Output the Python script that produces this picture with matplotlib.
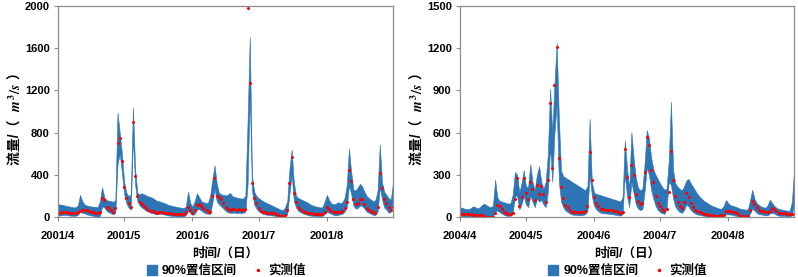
import matplotlib
matplotlib.use("Agg")
import matplotlib.pyplot as plt
from matplotlib.lines import Line2D
import numpy as np
import pandas as pd

# ---- data: 2001 (Apr 1 - Aug 31, daily) ----
obs_2001 = [
    40, 42, 45, 48, 45, 42, 40, 38, 40, 45,
    60, 67, 67, 62, 55, 48, 45, 42, 38, 50,
    178, 162, 98, 83, 67, 50, 83, 705, 750, 535,
    285, 180, 130, 98, 898, 384, 200, 146, 121, 100,
    83, 67, 57, 55, 50, 41, 45, 50, 41, 38,
    35, 35, 33, 32, 30, 30, 28, 32, 45, 92,
    67, 41, 67, 114, 121, 105, 83, 67, 55, 50,
    200, 368, 200, 194, 168, 130, 92, 73, 67, 73,
    79, 67, 73, 67, 70, 79, 1980, 1270, 320, 178,
    130, 83, 60, 50, 47, 41, 38, 35, 35, 29,
    20, 13, 13, 19, 67, 327, 568, 232, 140, 92,
    73, 60, 50, 41, 35, 35, 30, 30, 28, 28,
    30, 45, 92, 73, 57, 47, 44, 47, 50, 60,
    83, 140, 441, 346, 168, 124, 130, 171, 168, 124,
    83, 67, 55, 45, 41, 92, 416, 273, 168, 130,
    98, 67, 92,
]
upper_2001 = [
    120, 118, 115, 110, 105, 100, 95, 92, 92, 110,
    210, 150, 120, 110, 105, 100, 98, 95, 95, 150,
    283, 190, 160, 155, 150, 145, 160, 990, 800, 600,
    330, 230, 200, 210, 1040, 450, 230, 215, 225, 215,
    205, 195, 190, 180, 165, 150, 150, 140, 135, 125,
    115, 110, 105, 100, 95, 92, 88, 85, 100, 240,
    130, 100, 150, 225, 190, 150, 140, 135, 130, 200,
    350, 490, 320, 230, 215, 210, 205, 210, 230, 200,
    190, 185, 180, 175, 175, 200, 900, 1710, 400, 240,
    200, 180, 165, 150, 140, 130, 120, 110, 100, 90,
    80, 70, 65, 90, 150, 450, 637, 330, 200, 180,
    170, 160, 150, 140, 125, 115, 105, 100, 95, 90,
    95, 150, 210, 160, 130, 120, 125, 140, 130, 140,
    180, 300, 647, 430, 260, 250, 280, 314, 290, 240,
    200, 180, 165, 150, 160, 250, 685, 330, 240, 210,
    180, 165, 330,
]
lower_2001 = [
    15, 15, 18, 20, 18, 15, 12, 10, 12, 20,
    50, 40, 35, 25, 20, 15, 10, 5, 3, 10,
    100, 90, 60, 45, 35, 25, 40, 500, 600, 420,
    220, 130, 90, 70, 750, 300, 150, 110, 90, 75,
    60, 50, 40, 35, 30, 25, 30, 30, 25, 20,
    15, 12, 10, 8, 5, 5, 3, 5, 20, 60,
    40, 20, 30, 70, 75, 60, 45, 35, 30, 30,
    130, 270, 150, 120, 100, 80, 60, 45, 40, 40,
    42, 38, 40, 38, 40, 50, 300, 1150, 250, 120,
    80, 55, 40, 30, 25, 20, 18, 15, 12, 8,
    3, 0, 0, 5, 25, 220, 400, 150, 90, 60,
    45, 35, 28, 20, 15, 12, 10, 10, 8, 8,
    10, 30, 50, 40, 30, 20, 15, 20, 25, 30,
    50, 90, 300, 220, 110, 80, 85, 110, 105, 80,
    50, 40, 30, 20, 20, 50, 280, 170, 90, 70,
    40, 50, 150,
]

# ---- data: 2004 (Apr 1 - Aug 31, daily) ----
obs_2004 = [
    25, 24, 22, 21, 20, 18, 17, 16, 15, 14,
    12, 5, 3, 2, 2, 3, 28, 87, 76, 57,
    38, 26, 21, 24, 28, 128, 274, 80, 140, 274,
    168, 125, 250, 199, 123, 227, 165, 217, 163, 109,
    265, 808, 350, 936, 1208, 423, 210, 132, 85, 69,
    52, 38, 33, 38, 33, 33, 38, 45, 76, 463,
    265, 140, 99, 76, 57, 55, 52, 52, 50, 48,
    45, 40, 33, 28, 38, 480, 281, 140, 369, 298,
    163, 116, 92, 99, 317, 572, 511, 336, 246, 151,
    99, 76, 57, 45, 60, 180, 466, 265, 150, 104,
    75, 63, 104, 170, 140, 99, 69, 52, 40, 35,
    30, 22, 18, 14, 14, 12, 10, 10, 10, 12,
    14, 40, 45, 42, 38, 35, 28, 15, 10, 9,
    9, 10, 50, 116, 95, 69, 50, 45, 42, 38,
    35, 40, 65, 57, 40, 30, 28, 26, 25, 21,
    21, 20, 20,
]
upper_2004 = [
    70, 65, 60, 57, 55, 65, 76, 70, 60, 70,
    85, 95, 85, 75, 70, 80, 265, 140, 115, 110,
    105, 100, 95, 100, 160, 320, 300, 175, 240, 333,
    220, 210, 376, 250, 190, 300, 361, 250, 200, 250,
    450, 913, 600, 950, 1239, 700, 330, 290, 280, 270,
    260, 250, 240, 230, 220, 210, 200, 190, 220, 700,
    250, 175, 165, 160, 155, 150, 145, 140, 135, 130,
    125, 120, 115, 110, 140, 545, 350, 200, 605, 420,
    280, 210, 190, 200, 380, 617, 560, 420, 340, 300,
    270, 240, 215, 195, 200, 400, 820, 330, 240, 215,
    200, 190, 220, 260, 270, 240, 215, 190, 165, 145,
    130, 115, 105, 95, 85, 78, 72, 65, 60, 58,
    80, 121, 100, 85, 80, 75, 70, 62, 58, 55,
    52, 55, 120, 194, 130, 100, 85, 75, 70, 65,
    85, 123, 100, 80, 65, 58, 55, 50, 48, 45,
    45, 104, 330,
]
lower_2004 = [
    5, 5, 3, 2, 2, 3, 5, 3, 2, 2,
    2, 0, 0, 0, 0, 0, 40, 45, 35, 25,
    15, 10, 8, 8, 30, 150, 150, 55, 90, 150,
    90, 70, 150, 110, 70, 130, 110, 120, 90, 70,
    180, 500, 250, 600, 800, 250, 110, 70, 45, 35,
    25, 18, 15, 15, 12, 12, 15, 20, 40, 300,
    150, 80, 55, 40, 30, 28, 25, 25, 22, 20,
    18, 15, 12, 10, 20, 300, 150, 70, 250, 170,
    90, 60, 50, 55, 180, 350, 300, 190, 130, 80,
    50, 35, 28, 22, 60, 250, 230, 130, 75, 50,
    35, 30, 50, 90, 75, 50, 35, 25, 18, 15,
    12, 8, 5, 3, 2, 1, 0, 0, 0, 0,
    3, 20, 18, 18, 15, 10, 8, 3, 0, 0,
    0, 2, 25, 60, 45, 30, 20, 18, 15, 12,
    12, 25, 30, 25, 15, 10, 8, 8, 6, 5,
    5, 10, 100,
]

months_2001 = ["2001-04-01", "2001-05-01", "2001-06-01", "2001-07-01", "2001-08-01"]
labels_2001 = ["2001/4", "2001/5", "2001/6", "2001/7", "2001/8"]
months_2004 = ["2004-04-01", "2004-05-01", "2004-06-01", "2004-07-01", "2004-08-01"]
labels_2004 = ["2004/4", "2004/5", "2004/6", "2004/7", "2004/8"]
yticks_2001 = [0, 400, 800, 1200, 1600, 2000]
yticks_2004 = [0, 300, 600, 900, 1200, 1500]

# ---- style ----
COL_BAND = "#2E75B6"
COL_OBS = "#FF0000"
COL_SPINE = "#8C8C8C"
W, H = 798, 277

plt.rcParams["font.family"] = ["Liberation Sans", "Noto Sans CJK SC", "DejaVu Sans"]
plt.rcParams["font.weight"] = "bold"
plt.rcParams["mathtext.fontset"] = "stix"


def draw_panel(ax, start, end, obs, upper, lower, months, labels, yticks):
    dates = pd.date_range(start, end)
    ax.fill_between(dates, lower, upper, color=COL_BAND, linewidth=0.4,
                    edgecolor=COL_BAND)
    ax.plot(dates, obs, "o", ms=2.2, color=COL_OBS, mec="none")

    ax.set_xlim(dates[0], dates[-1])
    ax.set_ylim(yticks[0], yticks[-1])
    ax.set_xticks(pd.to_datetime(months))
    ax.set_xticklabels(labels, fontsize=8, fontweight="bold")
    ax.set_yticks(yticks)
    ax.set_yticklabels([str(v) for v in yticks], fontsize=8, fontweight="bold")
    ax.tick_params(axis="x", length=3, width=0.8, color=COL_SPINE, pad=7)
    ax.tick_params(axis="y", length=3, width=0.8, color=COL_SPINE, pad=3)
    for s in ax.spines.values():
        s.set_color(COL_SPINE)
        s.set_linewidth(0.9)

    ax.set_xlabel("时间/（日）", fontsize=9, fontweight="bold", labelpad=5)

    handles = [
        Line2D([], [], marker="s", ls="", color=COL_BAND, ms=7),
        Line2D([], [], marker="o", ls="", color=COL_OBS, ms=2.5, mec="none"),
    ]
    ax.legend(handles, ["90%置信区间", "实测值"], loc="center",
              bbox_to_anchor=(0.5, -0.255), ncol=2, frameon=False,
              prop={"size": 9, "weight": "bold"}, handletextpad=0.3,
              columnspacing=1.2, handlelength=1.0)


def ylabel_pieces(fig, x_px, yc_px):
    # y label in three pieces so the unit can be italic serif
    renderer = fig.canvas.get_renderer()
    pieces = ["流量/（ ", r" $m^3/s$ ", " ）"]
    texts = [fig.text(0, 0, p, rotation=90, fontsize=10, fontweight="bold",
                      ha="center", va="bottom") for p in pieces]
    heights = [t.get_window_extent(renderer).height for t in texts]
    y = yc_px - sum(heights) / 2
    for t, h in zip(texts, heights):
        t.set_position((x_px / W, y / H))
        y += h


fig = plt.figure(figsize=(W / 100, H / 100), dpi=100)
ax1 = fig.add_axes([0.0727, 0.2166, 0.4198, 0.7617])
ax2 = fig.add_axes([0.5764, 0.2166, 0.4186, 0.7617])

draw_panel(ax1, "2001-04-01", "2001-08-31", obs_2001, upper_2001, lower_2001,
           months_2001, labels_2001, yticks_2001)
draw_panel(ax2, "2004-04-01", "2004-08-31", obs_2004, upper_2004, lower_2004,
           months_2004, labels_2004, yticks_2004)

ylabel_pieces(fig, 16, H - 115)
ylabel_pieces(fig, 418, H - 115)

fig.savefig("out.png", dpi=100)
